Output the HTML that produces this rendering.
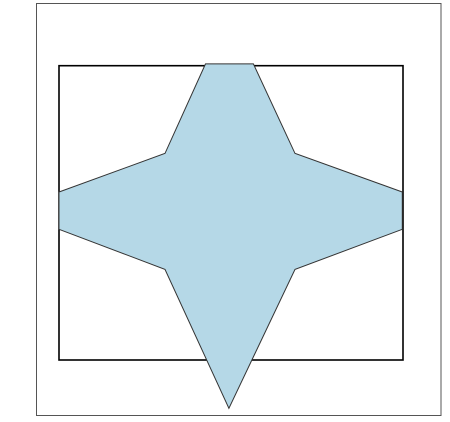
<!DOCTYPE html>
<html><head><meta charset="utf-8"><style>
html,body{margin:0;padding:0;background:#fff;width:450px;height:422px;overflow:hidden}
svg{display:block}
</style></head><body>
<svg id="chart" width="450" height="422">
<rect x="36.5" y="3.5" width="404.5" height="412" fill="#fff" stroke="#555" stroke-width="1"/>
<rect x="59" y="65.7" width="344" height="294.3" fill="none" stroke="#000" stroke-width="1.6"/>
</svg>
<script>
const xs = [0.426, 0.565, 0.686, 0.998, 0.998, 0.686, 0.494, 0.308, 0.0, 0.0, 0.308];
const ys = [1.006, 1.006, 0.702, 0.571, 0.444, 0.308, -0.164, 0.308, 0.444, 0.571, 0.702];
const X0 = 59, X1 = 403, Y0 = 360, Y1 = 65.7;
function sx(v){ return X0 + v * (X1 - X0); }
function sy(v){ return Y0 - v * (Y0 - Y1); }
const svg = document.getElementById('chart');
const pts = xs.map((x,i)=> sx(x).toFixed(1)+','+sy(ys[i]).toFixed(1)).join(' ');
const poly = document.createElementNS('http://www.w3.org/2000/svg','polygon');
poly.setAttribute('points', pts);
poly.setAttribute('fill', '#b5d8e7');
poly.setAttribute('stroke', '#333');
poly.setAttribute('stroke-width', '1');


svg.appendChild(poly);
</script>
</body></html>
